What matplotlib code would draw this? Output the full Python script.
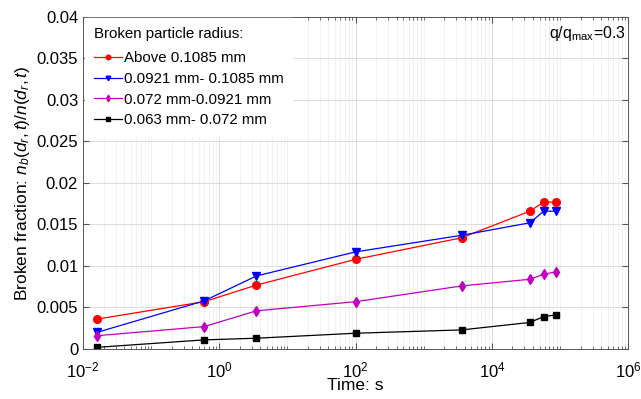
import matplotlib
matplotlib.use('Agg')
import matplotlib.pyplot as plt
from matplotlib.ticker import LogLocator, FixedLocator, FixedFormatter, NullFormatter

plt.rcParams['font.family'] = ['Liberation Sans', 'DejaVu Sans']
plt.rcParams['mathtext.fontset'] = 'custom'
plt.rcParams['mathtext.rm'] = 'Liberation Sans'
plt.rcParams['mathtext.it'] = 'Liberation Sans:italic'

# time points (s)
time_s = [0.016, 0.6, 3.5, 100, 3600, 36000, 57600, 86400]

# broken fraction for each radius class
above_01085 = [0.0036, 0.0057, 0.0077, 0.0108, 0.0134, 0.0166, 0.0177, 0.0177]
r_0921_1085 = [0.0020, 0.0058, 0.0088, 0.0117, 0.0137, 0.0152, 0.0166, 0.0166]
r_072_0921 = [0.0016, 0.0027, 0.0046, 0.0057, 0.0076, 0.0084, 0.0090, 0.0093]
r_063_072 = [0.0002, 0.0011, 0.0013, 0.0019, 0.0023, 0.0032, 0.0039, 0.0041]

labels = ['Above 0.1085 mm', '0.0921 mm- 0.1085 mm',
          '0.072 mm-0.0921 mm', '0.063 mm- 0.072 mm']
y_ticks = [0, 0.005, 0.01, 0.015, 0.02, 0.025, 0.03, 0.035, 0.04]
y_ticklabels = ['0', '0.005', '0.01', '0.015', '0.02', '0.025', '0.03', '0.035', '0.04']

fig = plt.figure(figsize=(6.41, 3.99), dpi=100)
ax = fig.add_axes([0.1295, 0.1253, 0.8505, 0.8322])

ax.plot(time_s, above_01085, '-o', color='#ff0000', lw=0.9, ms=5.5, label=labels[0])
ax.plot(time_s, r_0921_1085, '-v', color='#0000ff', lw=0.9, ms=5.5, label=labels[1])
ax.plot(time_s, r_072_0921, '-d', color='#c000c0', lw=0.9, ms=5.5, label=labels[2])
ax.plot(time_s, r_063_072, '-s', color='#000000', lw=0.9, ms=3.8, label=labels[3])

ax.set_xscale('log')
ax.set_xlim(1e-2, 1e6)
ax.set_ylim(0, 0.04)
ax.xaxis.set_major_locator(FixedLocator([1e-2, 1e0, 1e2, 1e4, 1e6]))
ax.xaxis.set_minor_locator(LogLocator(base=10, subs=range(1, 10), numticks=20))
ax.xaxis.set_minor_formatter(NullFormatter())
ax.yaxis.set_major_locator(FixedLocator(y_ticks))
ax.yaxis.set_major_formatter(FixedFormatter(y_ticklabels))

ax.grid(True, which='major', color='#dcdcdc', lw=0.7)
ax.grid(True, which='minor', axis='x', color='#ececec', lw=0.5)
ax.set_axisbelow(True)

ax.tick_params(which='both', direction='in', top=True, right=True,
               labelsize=12, color='#555555')
ax.tick_params(which='major', length=4)
ax.tick_params(which='minor', length=2)
ax.tick_params(axis='x', which='major', pad=8)
for s in ax.spines.values():
    s.set_color('#555555')
    s.set_linewidth(0.7)

ax.set_xlabel('Time: s', fontsize=12.5)
ax.xaxis.set_label_coords(0.5, -0.088)
ax.set_ylabel(r'Broken fraction: $n_b(d_r,t)/n(d_r,t)$', fontsize=12.5, labelpad=3)

ax.text(0.995, 0.95, r'q/q$_{\mathrm{max}}$=0.3', transform=ax.transAxes,
        ha='right', va='center', fontsize=11.5)

leg = ax.legend(loc='upper left', title='Broken particle radius:', fontsize=10.8,
                title_fontsize=10.8, frameon=True, edgecolor='white', framealpha=1,
                fancybox=False, handlelength=1.9, handletextpad=0.1,
                borderaxespad=0.1, borderpad=0.6, labelspacing=0.45, markerscale=0.6)
leg._legend_box.align = 'left'
leg._legend_box.sep = 7

fig.savefig('out.png', dpi=100)
